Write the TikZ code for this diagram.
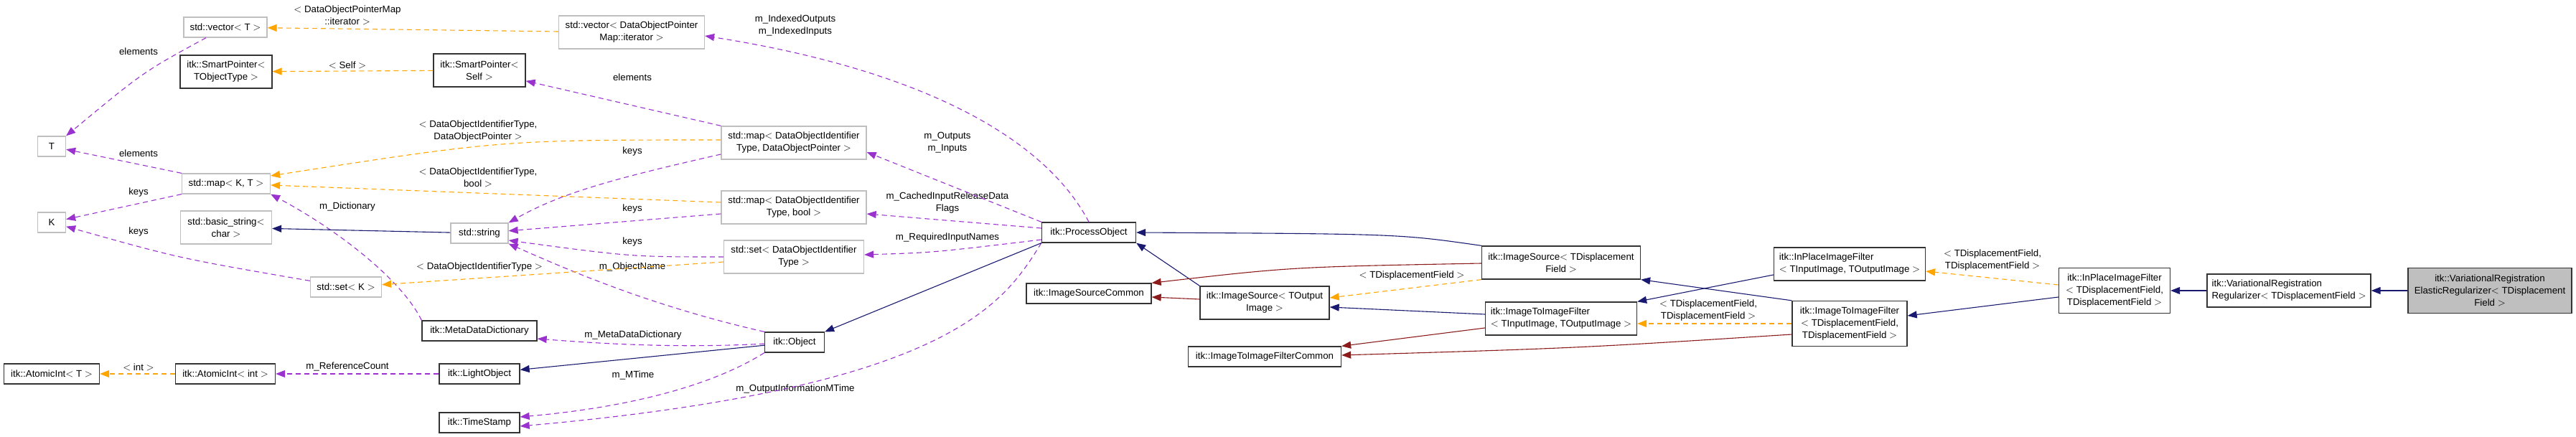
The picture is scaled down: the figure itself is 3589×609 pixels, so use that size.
\documentclass[tikz,border=0pt]{standalone}
\usepackage{fontspec}
\setmainfont{Liberation Sans}
\usepackage{tikz}
\usetikzlibrary{arrows.meta}
\definecolor{usecol}{HTML}{9A32CD}
\definecolor{tplcol}{HTML}{FFA500}
\definecolor{inhcol}{HTML}{191970}
\definecolor{prvcol}{HTML}{8B1A1A}
\tikzset{
  cls/.style = {draw=black!80, line width=1.3pt, fill=white, inner sep=3pt,
                minimum height=28pt, align=center},
  ext/.style = {cls, draw=black!25},
  lbl/.style = {inner sep=0pt, align=center},
  use/.style = {usecol, line width=1.1pt, dash pattern=on 7pt off 5pt},
  tpl/.style = {tplcol, line width=1.1pt, dash pattern=on 7pt off 5pt},
  inh/.style = {inhcol, line width=1.1pt},
  prv/.style = {prvcol, line width=1.1pt}
}
\begin{document}
\begin{tikzpicture}[x=1pt, y=-1pt, >={Triangle[length=13pt,width=10pt]},
  font=\fontsize{13.3}{17}\selectfont]
\useasboundingbox (0,0) rectangle (3589,609);
% classes on the left
\node[ext, minimum width=116] (vecT) at (314,38) {std::vector$<$ T $>$};
\node[cls, minimum width=128, minimum height=46] (spTObj) at (315,100) {itk::SmartPointer$<$\\TObjectType $>$};
\node[ext, minimum width=39] (T) at (72,204) {T};
\node[ext, minimum width=123] (mapKT) at (315,256) {std::map$<$ K, T $>$};
\node[ext, minimum width=39] (K) at (72,310) {K};
\node[ext, minimum width=127, minimum height=46] (basicStr) at (315,317) {std::basic\_string$<$\\char $>$};
\node[ext, minimum width=99] (setK) at (482,400) {std::set$<$ K $>$};
\node[cls, minimum width=133] (atomicT) at (72,521) {itk::AtomicInt$<$ T $>$};
\node[cls, minimum width=139] (atomicInt) at (314,521) {itk::AtomicInt$<$ int $>$};
% middle column
\node[ext, minimum width=203, minimum height=46] (vecDOPM) at (880,45) {std::vector$<$ DataObjectPointer\\Map::iterator $>$};
\node[cls, minimum width=128, minimum height=46] (spSelf) at (668,98) {itk::SmartPointer$<$\\Self $>$};
\node[ext, minimum width=80] (str) at (668,325) {std::string};
\node[cls, minimum width=160] (metaDict) at (668,461) {itk::MetaDataDictionary};
\node[cls, minimum width=112] (lightObj) at (668,521) {itk::LightObject};
\node[cls, minimum width=112] (timeStamp) at (668,589) {itk::TimeStamp};
\node[ext, minimum width=202, minimum height=46] (mapDOP) at (1106,199) {std::map$<$ DataObjectIdentifier\\Type, DataObjectPointer $>$};
\node[ext, minimum width=202, minimum height=46] (mapBool) at (1106,289) {std::map$<$ DataObjectIdentifier\\Type, bool $>$};
\node[ext, minimum width=195, minimum height=46] (setDOI) at (1106,358) {std::set$<$ DataObjectIdentifier\\Type $>$};
\node[cls, minimum width=83] (obj) at (1107,477) {itk::Object};
% filter hierarchy
\node[cls, minimum width=131] (procObj) at (1517,324) {itk::ProcessObject};
\node[cls, minimum width=174] (srcCommon) at (1517,409) {itk::ImageSourceCommon};
\node[cls, minimum width=213] (itifCommon) at (1762,497) {itk::ImageToImageFilterCommon};
\node[cls, minimum width=180, minimum height=46] (srcOut) at (1762,422) {itk::ImageSource$<$ TOutput\\Image $>$};
\node[cls, minimum width=221, minimum height=46] (srcDF) at (2175,366) {itk::ImageSource$<$ TDisplacement\\Field $>$};
\node[cls, minimum width=211, minimum height=46, align=left] (itifIO) at (2175,444) {itk::ImageToImageFilter\\$<$ TInputImage, TOutputImage $>$};
\node[cls, minimum width=211, minimum height=46, align=left] (inplIO) at (2577,368) {itk::InPlaceImageFilter\\$<$ TInputImage, TOutputImage $>$};
\node[cls, minimum width=160, minimum height=63] (itifDF) at (2577,451) {itk::ImageToImageFilter\\$<$ TDisplacementField,\\TDisplacementField $>$};
\node[cls, minimum width=155, minimum height=63] (inplDF) at (2946,405) {itk::InPlaceImageFilter\\$<$ TDisplacementField,\\TDisplacementField $>$};
\node[cls, minimum width=228, minimum height=46, align=left] (varReg) at (3189,405) {itk::VariationalRegistration\\Regularizer$<$ TDisplacementField $>$};
\node[cls, fill=black!25, minimum width=228, minimum height=63] (elastic) at (3469,405) {itk::VariationalRegistration\\ElasticRegularizer$<$ TDisplacement\\Field $>$};
% edge labels
\node[lbl] (lElem1) at (193,72) {elements};
\node[lbl] (lElem2) at (193,214) {elements};
\node[lbl] (lKeys1) at (193,268) {keys};
\node[lbl] (lKeys2) at (193,323) {keys};
\node[lbl] (lInt) at (193,512) {$<$ int $>$};
\node[lbl] (lIter) at (484,21) {$<$ DataObjectPointerMap\\::iterator $>$};
\node[lbl] (lSelf) at (484,91) {$<$ Self $>$};
\node[lbl] (lRefCnt) at (484,511) {m\_ReferenceCount};
\node[lbl] (lDict) at (484,288) {m\_Dictionary};
\node[lbl] (lDOP) at (666,183) {$<$ DataObjectIdentifierType,\\DataObjectPointer $>$};
\node[lbl] (lBool) at (666,247) {$<$ DataObjectIdentifierType,\\bool $>$};
\node[lbl] (lDOI) at (668,372) {$<$ DataObjectIdentifierType $>$};
\node[lbl] (lElem3) at (881,108) {elements};
\node[lbl] (lKeys3) at (881,211) {keys};
\node[lbl] (lKeys4) at (881,291) {keys};
\node[lbl] (lKeys5) at (881,337) {keys};
\node[lbl] (lName) at (881,372) {m\_ObjectName};
\node[lbl] (lMeta) at (882,467) {m\_MetaDataDictionary};
\node[lbl] (lMTime) at (882,523) {m\_MTime};
\node[lbl] (lOutMT) at (1108,542) {m\_OutputInformationMTime};
\node[lbl] (lIdx) at (1108,36) {m\_IndexedOutputs\\m\_IndexedInputs};
\node[lbl] (lIO) at (1320,199) {m\_Outputs\\m\_Inputs};
\node[lbl] (lCache) at (1320,283) {m\_CachedInputReleaseData\\Flags};
\node[lbl] (lReq) at (1320,331) {m\_RequiredInputNames};
\node[lbl] (lDF1) at (1967,384) {$<$ TDisplacementField $>$};
\node[lbl] (lDF2) at (2380,433) {$<$ TDisplacementField,\\TDisplacementField $>$};
\node[lbl] (lDF3) at (2776,363) {$<$ TDisplacementField,\\TDisplacementField $>$};
% usage (member) edges
\draw[use, ->] (vecT) .. controls (200,100) .. (T.north east);
\draw[use, ->] (mapKT.north west) -- (T);
\draw[use, ->] (mapKT.south west) -- (K);
\draw[use, ->] (setK) .. controls (250,360) .. (K);
\draw[use, ->] (metaDict.north west) .. controls (560,390) and (470,320) .. (mapKT.south east);
\draw[use, ->] (mapDOP.north west) -- (spSelf);
\draw[use, ->] (mapDOP.west |- 0,215) .. controls (850,250) and (780,270) .. (str.north east);
\draw[use, ->] (mapBool.west |- 0,298) -- (str);
\draw[use, ->] (setDOI) .. controls (880,358) .. (str.east |- 0,335);
\draw[use, ->] (obj.north west) .. controls (910,427) and (800,380) .. (str.south east);
\draw[use, ->] (obj) .. controls (950,485) and (850,480) .. (metaDict.east |- 0,472);
\draw[use, ->] (obj.south west) .. controls (980,545) and (850,570) .. (timeStamp.east |- 0,581);
\draw[use, ->] (procObj.south west) .. controls (1400,420) and (1330,540) .. (timeStamp.east |- 0,594);
\draw[use, ->] (procObj.north) .. controls (1460,200) and (1300,100) .. (vecDOPM.east |- 0,50);
\draw[use, ->] (procObj.north west) -- (mapDOP.east |- 0,212);
\draw[use, ->] (procObj.west |- 0,318) -- (mapBool.east |- 0,298);
\draw[use, ->] (procObj.west |- 0,334) .. controls (1300,352) .. (setDOI.east |- 0,355);
\draw[use, ->] (lightObj) -- (atomicInt);
% template instance edges
\draw[tpl, ->] (vecDOPM.west |- 0,44) -- (vecT);
\draw[tpl, ->] (spSelf) -- (spTObj);
\draw[tpl, ->] (mapDOP.west |- 0,195) .. controls (700,195) .. (mapKT.east |- 0,245);
\draw[tpl, ->] (mapBool.west |- 0,282) -- (mapKT.east |- 0,258);
\draw[tpl, ->] (setDOI.west |- 0,365) -- (setK);
\draw[tpl, ->] (atomicInt) -- (atomicT);
\draw[tpl, ->] (srcDF.south west) -- (srcOut.east |- 0,415);
\draw[tpl, ->] (itifDF.west |- 0,451) -- (itifIO.east |- 0,451);
\draw[tpl, ->] (inplDF.west |- 0,397) -- (inplIO.east |- 0,378);
% inheritance edges
\draw[inh, ->] (str) -- (basicStr);
\draw[inh, ->] (obj) -- (lightObj);
\draw[inh, ->] (procObj.south west) -- (obj.north east);
\draw[inh, ->] (srcOut.north west) -- (procObj.south east);
\draw[inh, ->] (srcDF.north west) .. controls (1950,326) .. (procObj.east);
\draw[inh, ->] (itifIO.west |- 0,438) -- (srcOut.east |- 0,428);
\draw[inh, ->] (itifDF.north west) -- (srcDF.south east);
\draw[inh, ->] (inplIO.west |- 0,383) -- (itifIO.north east);
\draw[inh, ->] (inplDF.west |- 0,414) -- (itifDF.east |- 0,440);
\draw[inh, ->] (varReg) -- (inplDF);
\draw[inh, ->] (elastic) -- (varReg);
% private common bases
\draw[prv, ->] (srcOut.west |- 0,417) -- (srcCommon.east |- 0,414);
\draw[prv, ->] (srcDF.west |- 0,367) .. controls (1800,372) .. (srcCommon.north east);
\draw[prv, ->] (itifIO.west |- 0,457) -- (itifCommon.north east);
\draw[prv, ->] (itifDF.west |- 0,466) .. controls (2200,485) .. (itifCommon.east |- 0,495);
\end{tikzpicture}
\end{document}
